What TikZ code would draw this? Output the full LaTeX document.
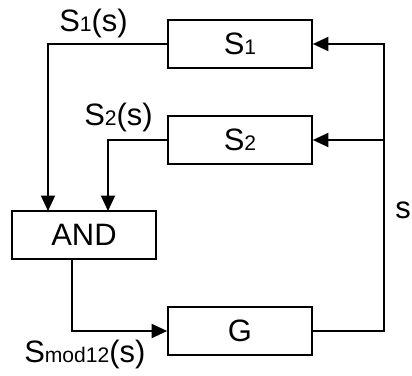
\documentclass[tikz,border=0pt]{standalone}
\usepackage{fontspec}
\setmainfont{Liberation Sans}
\usetikzlibrary{arrows.meta}
\newcommand{\subidx}[1]{{\fontsize{15}{15}\selectfont #1}}

\begin{document}
\begin{tikzpicture}[
      x=0.025cm, y=-0.025cm,
      every node/.style={font=\fontsize{22}{26}\selectfont, inner sep=0pt},
      block/.style={draw, line width=1.2pt, minimum width=3.6cm, minimum height=1.2cm},
      lbl/.style={anchor=base west},
      arr/.style={-{Triangle[length=11pt,width=10pt]}, line width=1.2pt}
  ]
    \useasboundingbox (0,0) rectangle (412,375);
    \node[block] (s1) at (240,44) {S\subidx{1}};
    \node[block] (s2) at (240,140) {S\subidx{2}};
    \node[block] (and) at (84,235) {AND};
    \node[block] (g) at (240,331) {G};
    % inputs on top of AND, rail on the right
    \coordinate (and-in1) at (48,211);
    \coordinate (and-in2) at (108,211);
    \coordinate (and-out) at (72,259);
    \coordinate (rail) at (384,44);
    \draw[arr] (s1.west) -| (and-in1);
    \draw[arr] (s2.west) -| (and-in2);
    \draw[arr] (and-out) |- (g.west);
    \draw[arr] (g.east) -| (rail) -- (s1.east);
    \draw[arr] (rail |- s2.east) -- (s2.east);
    % labels
    \node[lbl] (l1) at (59,31) {S\subidx{1}(s)};
    \node[lbl] (l2) at (84,125) {S\subidx{2}(s)};
    \node[lbl] (l3) at (24,362) {S\subidx{mod12}(s)};
    \node[lbl] (l4) at (395,218) {s};
\end{tikzpicture}
\end{document}
